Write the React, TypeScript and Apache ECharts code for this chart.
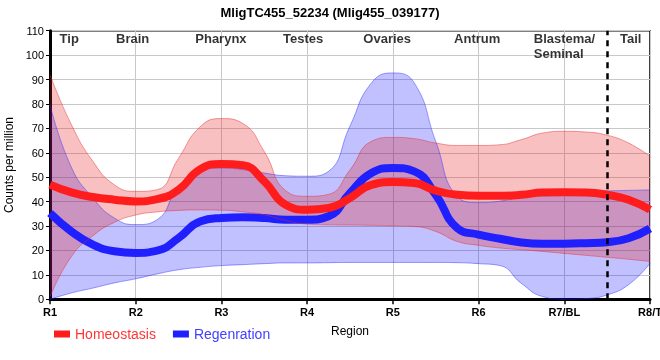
import React, { useEffect, useRef } from 'react';
import * as echarts from 'echarts';

const titleText = 'MligTC455_52234 (Mlig455_039177)';
const xTickLabels = ['R1', 'R2', 'R3', 'R4', 'R5', 'R6', 'R7/BL', 'R8/T'];
const regionNames = ['Tip', 'Brain', 'Pharynx', 'Testes', 'Ovaries', 'Antrum', 'Blastema/\nSeminal', 'Tail'];
const regionPos = [1.23, 1.97, 3.0, 3.96, 4.94, 5.99, 6.65, 7.78];
const dividerCategory = '7.5';

const xs = [1, 1.25, 1.5, 1.75, 2, 2.25, 2.5, 2.75, 3, 3.25, 3.5, 3.75, 4, 4.25, 4.5, 4.75, 5, 5.25, 5.5, 5.75, 6, 6.25, 6.5, 6.75, 7, 7.25, 7.5, 7.75, 8];

const homeoMean = [47, 43.8, 41.9, 40.8, 40.1, 41, 44.9, 53.2, 55.4, 54.9, 48.3, 38.7, 36.7, 37.4, 41.5, 46.9, 48, 47.6, 44.5, 42.8, 42.4, 42.4, 42.8, 43.7, 43.8, 43.7, 42.8, 40.8, 36.7];
const homeoHigh = [92, 71.5, 56.5, 46.9, 44.2, 44.9, 57.8, 70.6, 74, 72, 60.5, 44.5, 42.2, 43, 53, 64.7, 66.3, 65.8, 64, 63, 63, 63.3, 65.4, 68.1, 68.8, 68.5, 67.2, 64, 58.6];
const homeoLow = [1, 17.5, 26, 31.5, 34.5, 35.8, 36.4, 36.6, 36.5, 35.8, 34.6, 32.3, 30.8, 30.5, 30.4, 30.3, 30.1, 29.8, 27.8, 23.7, 22.1, 21, 20.3, 19.6, 18.8, 18, 17.2, 16.4, 15.5];

const regenMean = [35.3, 27.8, 22.4, 19.7, 19, 19.9, 25.1, 31.9, 33.3, 33.6, 33.3, 32.6, 32.6, 34, 43.5, 51.7, 53.8, 52.4, 42.8, 29.2, 26.5, 24.8, 23.3, 22.8, 22.8, 23, 23.4, 25, 29];
const regenHigh = [79.7, 54, 41.5, 33.3, 30.6, 32.6, 46, 52.4, 53.8, 53.1, 51.7, 50.6, 50.4, 52.4, 71, 88.6, 92.7, 88.6, 64.7, 42.2, 39.6, 40.2, 42, 43.3, 44, 44.2, 44.4, 44.6, 44.8];
const regenLow = [0, 2.6, 4.6, 6.7, 8.4, 10.4, 12.1, 13.1, 13.8, 14.2, 14.6, 14.9, 14.9, 15, 15.1, 15.1, 15.1, 15.1, 15.1, 15, 14.6, 13.8, 6.5, 1.1, 0, 0.3, 1.8, 6, 14.7];

const FONT = '"Liberation Sans", Arial, sans-serif';

const diffs = (hi: number[], lo: number[]) => hi.map((h, i) => h - lo[i]);

export default function App() {
  const ref = useRef<HTMLDivElement>(null);
  useEffect(() => {
    const chart = echarts.init(ref.current!, null, { renderer: 'svg' });
    const smooth = 0.5;
    const base = { type: 'line', symbol: 'none', smooth, silent: true, xAxisIndex: 0 };
    chart.setOption({
      animation: false,
      textStyle: { fontFamily: FONT },
      title: {
        text: titleText,
        left: 'center',
        top: 1,
        textStyle: { fontSize: 13, fontWeight: 'bold', color: '#000', fontFamily: FONT },
      },
      legend: {
        left: 49,
        top: 322,
        icon: 'rect',
        itemWidth: 16,
        itemHeight: 7,
        itemGap: 17,
        textStyle: { fontSize: 14, fontFamily: FONT },
        data: [
          { name: 'Homeostasis', textStyle: { color: '#ff3535' } },
          { name: 'Regenration', textStyle: { color: '#4040ff' } },
        ],
      },
      grid: {
        left: 50,
        right: 10,
        top: 30.7,
        bottom: 60.7,
        containLabel: false,
        outerBoundsMode: 'none',
        show: true,
        borderColor: '#000',
        borderWidth: 1.5,
      },
      xAxis: [
        {
          type: 'category',
          boundaryGap: false,
          data: xs.map(String),
          name: 'Region',
          nameLocation: 'middle',
          nameGap: 26,
          nameTextStyle: { fontSize: 12, color: '#000', fontFamily: FONT },
          axisLine: { onZero: false, lineStyle: { color: '#000', width: 3 } },
          axisTick: { show: true, interval: 3, length: 5, lineStyle: { color: '#000', width: 1.5 } },
          axisLabel: {
            interval: 3,
            fontSize: 11,
            fontWeight: 'bold',
            color: '#000',
            margin: 7,
            fontFamily: FONT,
            hideOverlap: false,
            formatter: (_v: string, idx: number) => xTickLabels[idx / 4] ?? '',
          },
          splitLine: { show: true, interval: 3, lineStyle: { color: '#c8c8c8', width: 1 } },
        },
        {
          type: 'value',
          min: 1,
          max: 8,
          show: false,
          splitLine: { show: false },
        },
      ],
      yAxis: {
        type: 'value',
        min: 0,
        max: 110,
        interval: 10,
        name: 'Counts per million',
        nameLocation: 'middle',
        nameGap: 32,
        nameTextStyle: { fontSize: 12, color: '#000', fontFamily: FONT },
        axisLine: { show: true, lineStyle: { color: '#000', width: 3 } },
        axisTick: { show: true, length: 4, lineStyle: { color: '#000', width: 1 } },
        axisLabel: { fontSize: 11, color: '#000', margin: 6, fontFamily: FONT },
        splitLine: { show: true, lineStyle: { color: '#c8c8c8', width: 1 } },
      },
      series: [
        {
          ...base,
          name: 'regenLow',
          stack: 'b',
          data: regenLow,
          lineStyle: { color: 'rgba(40,40,255,0.45)', width: 1 },
        },
        {
          ...base,
          name: 'regenBand',
          stack: 'b',
          data: diffs(regenHigh, regenLow),
          lineStyle: { color: 'rgba(40,40,255,0.45)', width: 1 },
          areaStyle: { color: 'rgba(0,0,255,0.35)' },
        },
        {
          ...base,
          name: 'Regenration',
          data: regenMean,
          itemStyle: { color: '#2020ff' },
          lineStyle: { color: '#2020ff', width: 8 },
        },
        {
          ...base,
          name: 'homeoLow',
          stack: 'r',
          data: homeoLow,
          lineStyle: { color: 'rgba(230,40,40,0.45)', width: 1 },
        },
        {
          ...base,
          name: 'homeoBand',
          stack: 'r',
          data: diffs(homeoHigh, homeoLow),
          lineStyle: { color: 'rgba(230,40,40,0.45)', width: 1 },
          areaStyle: { color: 'rgba(230,25,25,0.39)' },
        },
        {
          ...base,
          name: 'Homeostasis',
          data: homeoMean,
          itemStyle: { color: '#ff1c1c' },
          lineStyle: { color: '#ff1c1c', width: 8 },
          markLine: {
            silent: true,
            symbol: 'none',
            label: { show: false },
            lineStyle: { color: '#000', type: [6, 5], width: 2.5 },
            data: [{ xAxis: dividerCategory }],
          },
        },
        {
          type: 'scatter',
          name: 'regions',
          xAxisIndex: 1,
          silent: true,
          symbolSize: 1,
          itemStyle: { color: 'rgba(0,0,0,0)' },
          data: regionNames.map((n, i) => ({
            value: [regionPos[i], 109.5],
            name: n,
            label: { align: i === 6 ? 'left' : 'center' },
          })),
          label: {
            show: true,
            position: [0, 0],
            verticalAlign: 'top',
            formatter: (p: any) => p.name,
            fontSize: 13,
            lineHeight: 15,
            fontWeight: 'bold',
            color: '#000',
            fontFamily: FONT,
          },
          z: 10,
        },
      ],
    });
    return () => chart.dispose();
  }, []);
  return <div ref={ref} style={{ position: 'fixed', left: 0, top: 0, width: 660, height: 360 }} />;
}
